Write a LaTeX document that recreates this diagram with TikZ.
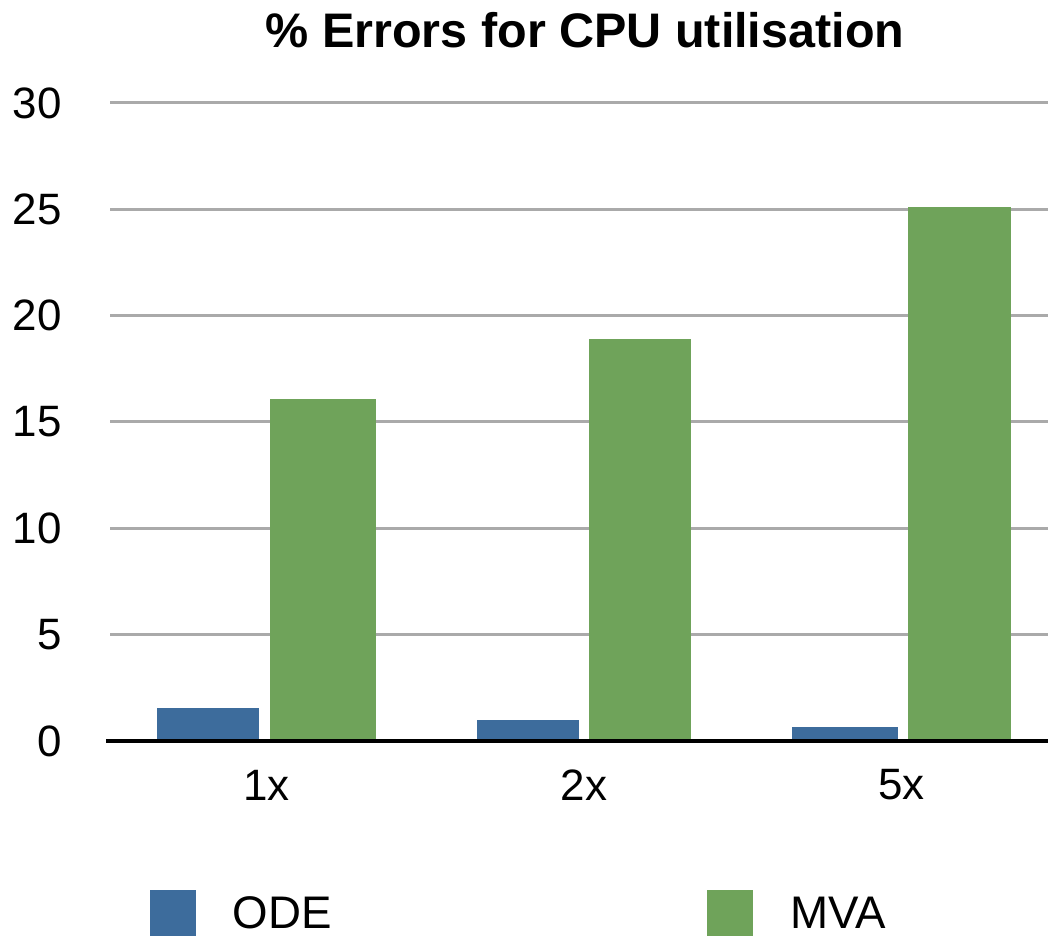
\documentclass[tikz,border=0pt]{standalone}
\usepackage{fontspec}
\setmainfont{Liberation Sans}
\usetikzlibrary{positioning}
\definecolor{odeblue}{RGB}{61,108,156}
\definecolor{mvagreen}{RGB}{111,163,90}
\definecolor{gridgray}{RGB}{170,170,170}
\tikzstyle{ticklabel} = [anchor=east, inner sep=0pt, font=\fontsize{25}{25}\selectfont]
\tikzstyle{catlabel} = [inner sep=0pt, font=\fontsize{25}{25}\selectfont]
\tikzstyle{keybox} = [minimum size=0.92cm, inner sep=0pt]
\tikzstyle{keylabel} = [inner sep=0pt, anchor=west, font=\fontsize{26}{26}\selectfont]
\tikzstyle{gridline} = [gridgray, line width=1.7pt]

\begin{document}
\begin{tikzpicture}[x=0.02cm, y=-0.02cm]
		\useasboundingbox (0,0) rectangle (1048,936);
		
		\node [font=\bfseries\fontsize{27.6}{27.6}\selectfont, inner sep=0pt] (title) at (585,30) {\% Errors for CPU utilisation};
		
		% grid and values
		\foreach \v in {5,10,...,30} {
			\draw [gridline] (110,{741-\v*21.27}) -- (1048,{741-\v*21.27});
		}
		\foreach \v in {0,5,...,30} {
			\node [ticklabel] (tick\v) at (62,{741-\v*21.27}) {\v};
		}
		
		% bars
		\foreach \x/\xe/\xm/\xme/\a/\b/\lab in {157/259/270/376/1.55/16.1/1x, 477/579/589/691/0.99/18.9/2x, 792/898/908/1011/0.66/25.1/5x} {
			\fill [odeblue] (\x,741) rectangle (\xe,{741-\a*21.27});
			\fill [mvagreen] (\xm,741) rectangle (\xme,{741-\b*21.27});
			\node [catlabel] (cat\lab) at ({(\x+\xme)/2},785) {\lab};
		}
		\draw [black, line width=2.3pt] (106,741) -- (1048,741);
		
		% legend
		\node [keybox, fill=odeblue] (odekey) at (173,913) {};
		\node [keylabel, right=0.72cm of odekey] (odelab) {ODE};
		\node [keybox, fill=mvagreen] (mvakey) at (730,913) {};
		\node [keylabel, right=0.74cm of mvakey] (mvalab) {MVA};
		
		\end{tikzpicture}
\end{document}
